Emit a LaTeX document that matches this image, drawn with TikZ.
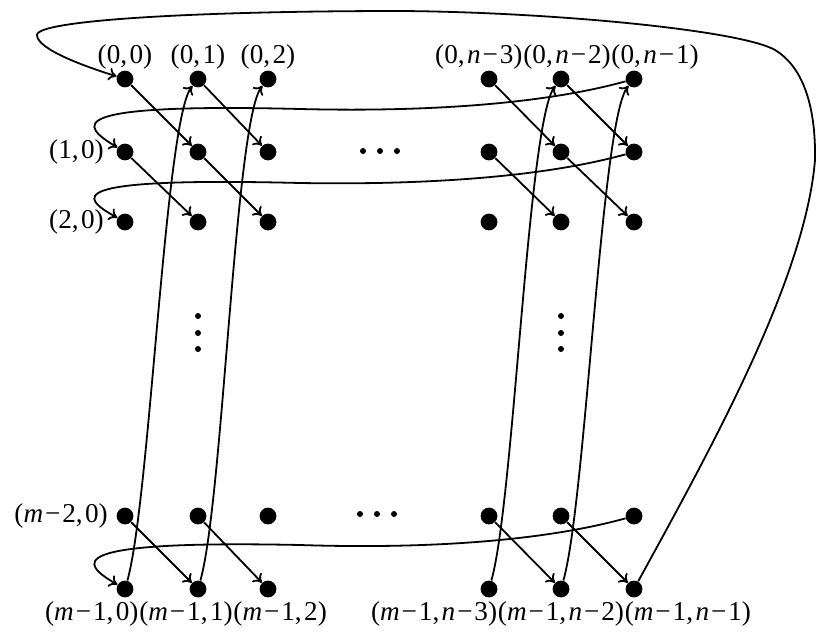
\documentclass[tikz,border=0pt]{standalone}
\usepackage{fontspec}
\setmainfont{Liberation Serif}
\usetikzlibrary{arrows.meta,positioning}
\newcommand{\mns}{\kern0.07em\char"2212\kern0.07em}
\newcommand{\cm}{,\kern0.09em}
\newcommand{\vm}{\textit{m}}
\newcommand{\vn}{\textit{n}}
\begin{document}
\begin{tikzpicture}[x=0.5pt,y=-0.5pt,
  dot/.style={circle,fill=black,inner sep=0pt,minimum size=8.4pt},
  sdot/.style={circle,fill=black,inner sep=0pt,minimum size=3pt},
  lbl/.style={inner sep=0pt,font=\fontsize{13.6}{16}\selectfont},
  ln/.style={line width=0.9pt},
  arr/.style={line width=0.9pt,-{To[length=4pt,width=6.5pt]}}]
\useasboundingbox (0,0) rectangle (818,631);
% grid dots
\foreach \c/\x in {0/125,1/198,2/268,a/489,b/561,c/634}{
  \foreach \r/\y in {0/79,1/152,2/222,p/516,q/589}{
    \node[dot] (d\r\c) at (\x,\y) {};
  }
}
% ellipses
\node[sdot] (h1a) at (363,151) {};
\node[sdot] (h1b) at (380,151) {};
\node[sdot] (h1c) at (397,151) {};
\node[sdot] (h2a) at (360,514) {};
\node[sdot] (h2b) at (377,514) {};
\node[sdot] (h2c) at (394,514) {};
\node[sdot] (v1a) at (198,316) {};
\node[sdot] (v1b) at (198,333) {};
\node[sdot] (v1c) at (198,349) {};
\node[sdot] (v2a) at (561,316) {};
\node[sdot] (v2b) at (561,333) {};
\node[sdot] (v2c) at (561,349) {};
% labels top
\node[lbl,above=0.2pt of d00] (l00) {(0\cm0)};
\node[lbl,above=0.2pt of d01] (l01) {(0\cm1)};
\node[lbl,above=0.2pt of d02] (l02) {(0\cm2)};
\node[lbl,above=0.2pt of d0b,xshift=3pt] (l0b) {(0\cm\vn\mns2)};
\node[lbl,anchor=base east] (l0a) at (l0b.base west) {(0\cm\vn\mns3)};
\node[lbl,anchor=base west] (l0c) at (l0b.base east) {(0\cm\vn\mns1)};
% labels left
\node[lbl,left=6pt of d10] (l10) {(1\cm0)};
\node[lbl,left=6pt of d20] (l20) {(2\cm0)};
\node[lbl,left=4pt of dp0] (lp0) {(\vm\mns2\cm0)};
% labels bottom
\node[lbl,below=1.5pt of dq1,xshift=-6pt] (lq1) {(\vm\mns1\cm1)};
\node[lbl,anchor=base east] (lq0) at (lq1.base west) {(\vm\mns1\cm0)};
\node[lbl,anchor=base west] (lq2) at (lq1.base east) {(\vm\mns1\cm2)};
\node[lbl,below=1.5pt of dqb] (lqb) {(\vm\mns1\cm\vn\mns2)};
\node[lbl,anchor=base east] (lqa) at (lqb.base west) {(\vm\mns1\cm\vn\mns3)};
\node[lbl,anchor=base west] (lqc) at (lqb.base east) {(\vm\mns1\cm\vn\mns1)};
% diagonal arrows
\foreach \s/\t in {00/11,01/12,10/21,11/22,0a/1b,0b/1c,1a/2b,1b/2c,p0/q1,p1/q2,pa/qb,pb/qc}{
  \draw[arr] (d\s) -- (d\t);
}
% column wrap curves
\foreach \s/\t in {q0/01,q1/02,qa/0b,qb/0c}{
  \draw[arr] (d\s) .. controls +(25,-89) and +(-33,41) .. (d\t);
}
% row wrap curves
\draw[arr] (d0c) .. controls (540,105) and (420,112) .. (300,109)
  .. controls (60,103) and (80,125) .. (d10);
\draw[arr] (d1c) .. controls (540,178) and (420,185) .. (300,183)
  .. controls (60,177) and (80,197) .. (d20);
\draw[arr] (dpc) .. controls (540,542) and (420,549) .. (300,545)
  .. controls (60,540) and (80,563) .. (dq0);
% outer wrap
\draw[arr] (dqc) .. controls (710,450) and (805,280) .. (815,160)
  .. controls (816,100) and (800,65) .. (775,50)
  .. controls (740,30) and (550,12) .. (400,11)
  .. controls (200,11) and (37,20) .. (37,35)
  .. controls (37,50) and (90,68) .. (d00);
\end{tikzpicture}
\end{document}
